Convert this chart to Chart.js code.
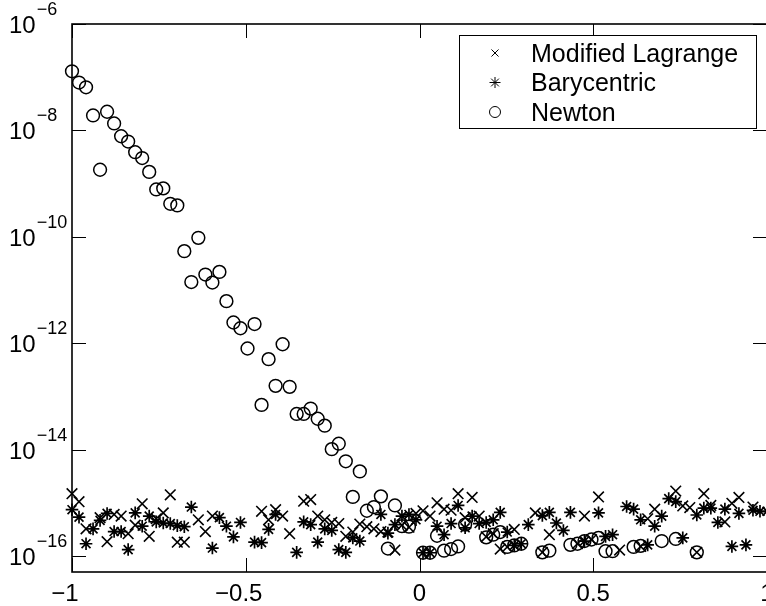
<!DOCTYPE html>
<html>
<head>
<meta charset="utf-8">
<title>Interpolation error</title>
<script src="https://cdn.jsdelivr.net/npm/chart.js@4.4.1/dist/chart.umd.min.js"></script>
<style>
  html, body { margin: 0; padding: 0; background: #fff; overflow: hidden; }
  canvas { display: block; }
</style>
</head>
<body>
<canvas id="myChart" width="768" height="606" style="width:768px;height:606px"></canvas>
<script>
// evaluation points (100 equispaced points on [-1, 1])
const xs = [
  -1, -0.9798, -0.9596, -0.9394, -0.9192, -0.8990, -0.8788, -0.8586, -0.8384, -0.8182,
  -0.7980, -0.7778, -0.7576, -0.7374, -0.7172, -0.6970, -0.6768, -0.6566, -0.6364, -0.6162,
  -0.5960, -0.5758, -0.5556, -0.5354, -0.5152, -0.4949, -0.4747, -0.4545, -0.4343, -0.4141,
  -0.3939, -0.3737, -0.3535, -0.3333, -0.3131, -0.2929, -0.2727, -0.2525, -0.2323, -0.2121,
  -0.1919, -0.1717, -0.1515, -0.1313, -0.1111, -0.0909, -0.0707, -0.0505, -0.0303, -0.0101,
  0.0101, 0.0303, 0.0505, 0.0707, 0.0909, 0.1111, 0.1313, 0.1515, 0.1717, 0.1919,
  0.2121, 0.2323, 0.2525, 0.2727, 0.2929, 0.3131, 0.3333, 0.3535, 0.3737, 0.3939,
  0.4141, 0.4343, 0.4545, 0.4747, 0.4949, 0.5152, 0.5354, 0.5556, 0.5758, 0.5960,
  0.6162, 0.6364, 0.6566, 0.6768, 0.6970, 0.7172, 0.7374, 0.7576, 0.7778, 0.7980,
  0.8182, 0.8384, 0.8586, 0.8788, 0.8990, 0.9192, 0.9394, 0.9596, 0.9798, 1
];

// errors (null = no marker visible)
const lagrange = [
  1.48e-15, 1.05e-15, 3.24e-16, null, 5.25e-16, 1.86e-16, 6.03e-16, 5.62e-16, 2.63e-16, 3.80e-16,
  9.55e-16, 2.34e-16, 5.01e-16, 6.46e-16, 1.41e-15, 1.82e-16, 1.82e-16, null, 4.79e-16, 2.88e-16,
  5.62e-16, null, null, null, null, null, null, 6.92e-16, 4.79e-16, 7.41e-16,
  5.62e-16, 2.63e-16, null, 1.07e-15, 1.15e-15, 5.62e-16, 4.79e-16, 4.27e-16, 4.07e-16, 2.34e-16,
  2.82e-16, 3.98e-16, 3.55e-16, 3.24e-16, 2.88e-16, 2.82e-16, 1.29e-16, 3.80e-16, 3.47e-16, 6.31e-16,
  7.08e-16, 5.62e-16, 1.00e-15, 7.59e-16, 7.24e-16, 1.48e-15, 5.25e-16, 1.26e-15, 5.62e-16, 2.29e-16,
  2.63e-16, 1.35e-16, 1.48e-16, 3.16e-16, null, null, 6.46e-16, 1.17e-16, 2.51e-16, null,
  null, null, 1.70e-16, 5.62e-16, 2.04e-16, 1.29e-15, null, null, 1.29e-16, null,
  null, 1.51e-16, 5.01e-16, 7.59e-16, null, null, 1.66e-15, 8.71e-16, 8.13e-16, 1.17e-16,
  1.48e-15, 8.91e-16, null, 4.37e-16, 9.77e-16, 1.26e-15, null, 8.32e-16, null, null
];

const barycentric = [
  7.41e-16, 5.37e-16, 1.70e-16, 3.24e-16, 4.68e-16, 6.31e-16, 2.88e-16, 2.88e-16, 1.32e-16, 6.46e-16,
  3.63e-16, 5.62e-16, 4.37e-16, 4.17e-16, 4.07e-16, 3.72e-16, 3.55e-16, 8.32e-16, null, null,
  1.41e-16, 5.25e-16, 3.63e-16, 2.29e-16, 4.27e-16, null, 1.82e-16, 1.78e-16, 3.16e-16, 6.03e-16,
  null, null, 1.17e-16, 4.37e-16, 3.89e-16, 1.82e-16, 3.24e-16, 3.02e-16, 1.32e-16, 1.17e-16,
  2.19e-16, 1.91e-16, null, null, 6.03e-16, 2.69e-16, 3.89e-16, 5.62e-16, 6.03e-16, 4.79e-16,
  1.15e-16, 1.15e-16, 3.63e-16, 2.51e-16, 4.07e-16, 8.91e-16, 3.39e-16, 5.62e-16, 4.07e-16, 4.27e-16,
  4.79e-16, 6.61e-16, 2.82e-16, 1.58e-16, 1.70e-16, 3.89e-16, null, 5.75e-16, 6.61e-16, 4.17e-16,
  3.02e-16, 6.61e-16, null, 1.91e-16, null, 6.46e-16, 2.34e-16, 2.51e-16, null, 8.51e-16,
  7.59e-16, 4.79e-16, 1.62e-16, 3.63e-16, 5.62e-16, 1.20e-15, 1.05e-15, 2.19e-16, null, 5.89e-16,
  7.94e-16, 7.94e-16, 4.27e-16, 7.59e-16, 1.51e-16, 6.31e-16, 1.62e-16, 7.24e-16, 6.92e-16, 6.92e-16
];

const newton = [
  1.29e-7, 7.94e-8, 6.46e-8, 1.91e-8, 1.82e-9, 2.24e-8, 1.35e-8, 7.76e-9, 6.17e-9, 3.89e-9,
  3.02e-9, 1.66e-9, 7.76e-10, 8.13e-10, 4.17e-10, 3.89e-10, 5.37e-11, 1.41e-11, 9.55e-11, 1.95e-11,
  1.38e-11, 2.19e-11, 6.17e-12, 2.45e-12, 1.91e-12, 7.94e-13, 2.29e-12, 6.92e-14, 5.01e-13, 1.58e-13,
  9.55e-13, 1.51e-13, 4.68e-14, 4.68e-14, 5.89e-14, 3.80e-14, 2.82e-14, 1.02e-14, 1.29e-14, 6.03e-15,
  1.29e-15, 3.89e-15, 7.08e-16, 8.32e-16, 1.32e-15, 1.38e-16, 8.91e-16, 3.63e-16, 3.55e-16, null,
  1.15e-16, 1.15e-16, 2.40e-16, 1.26e-16, 1.35e-16, 1.51e-16, 3.89e-16, null, null, 2.24e-16,
  2.51e-16, 2.82e-16, 1.48e-16, 1.58e-16, 1.70e-16, null, null, 1.17e-16, 1.26e-16, null,
  null, 1.62e-16, 1.70e-16, 1.91e-16, 2.04e-16, 2.19e-16, 1.23e-16, 1.23e-16, null, null,
  1.48e-16, 1.55e-16, null, null, 1.91e-16, null, 2.09e-16, null, null, 1.17e-16,
  null, null, null, null, null, null, null, null, null, null
];

const seriesNames = ["Modified Lagrange", "Barycentric", "Newton"];
const xTicks = [-1, -0.5, 0, 0.5, 1];
const xTickLabels = ["\u22121", "\u22120.5", "0", "0.5", "1"];
const yTicks = [1e-16, 1e-14, 1e-12, 1e-10, 1e-8, 1e-6];
const yTickExp = ["\u221216", "\u221214", "\u221212", "\u221210", "\u22128", "\u22126"];

const FONT = "'Liberation Sans', Arial, Helvetica, sans-serif";

function toPoints(ys) {
  const pts = [];
  for (let i = 0; i < xs.length; i++) {
    if (ys[i] !== null) pts.push({ x: xs[i], y: ys[i] });
  }
  return pts;
}

// matlab style box, inward ticks and 10^n labels
const frame = {
  id: 'frame',
  afterDatasetsDraw(chart) {
    const ctx = chart.ctx, a = chart.chartArea;
    const sx = chart.scales.x, sy = chart.scales.y;
    ctx.save();
    ctx.strokeStyle = '#000';
    ctx.lineWidth = 1.6;
    ctx.strokeRect(a.left, a.top, a.right - a.left, a.bottom - a.top);

    ctx.lineWidth = 1;
    ctx.beginPath();
    xTicks.forEach(v => {
      const px = Math.round(sx.getPixelForValue(v)) + 0.5;
      ctx.moveTo(px, a.bottom); ctx.lineTo(px, a.bottom - 14);
      ctx.moveTo(px, a.top); ctx.lineTo(px, a.top + 14);
    });
    yTicks.forEach(v => {
      const py = Math.round(sy.getPixelForValue(v)) + 0.5;
      ctx.moveTo(a.left, py); ctx.lineTo(a.left + 14, py);
      ctx.moveTo(a.right, py); ctx.lineTo(a.right - 14, py);
    });
    ctx.stroke();

    ctx.fillStyle = '#000';
    ctx.textBaseline = 'alphabetic';
    xTicks.forEach((v, i) => {
      const px = sx.getPixelForValue(v);
      const txt = xTickLabels[i];
      const neg = txt[0] === '\u2212';
      const num = neg ? txt.slice(1) : txt;
      ctx.font = '24px ' + FONT;
      const w = ctx.measureText(num).width;
      ctx.textAlign = 'center';
      ctx.fillText(num, px, a.bottom + 29);
      if (neg) {
        ctx.textAlign = 'right';
        ctx.fillText('\u2212', px - w / 2, a.bottom + 29);
      }
    });
    yTicks.forEach((v, i) => {
      const py = sy.getPixelForValue(v);
      ctx.font = '24px ' + FONT;
      ctx.textAlign = 'left';
      ctx.fillText('10', 9, py + 9);
      const w = ctx.measureText('10').width;
      ctx.font = '18px ' + FONT;
      ctx.fillText(yTickExp[i], 9 + w + 1, py - 9);
    });
    ctx.restore();
  }
};

// boxed legend in the upper right corner
const boxLegend = {
  id: 'boxLegend',
  afterDraw(chart) {
    const ctx = chart.ctx, a = chart.chartArea;
    const bx = a.right - 308, by = a.top + 11, bw = 297, bh = 93;
    ctx.save();
    ctx.fillStyle = '#fff';
    ctx.fillRect(bx, by, bw, bh);
    ctx.strokeStyle = '#000';
    ctx.lineWidth = 1;
    ctx.strokeRect(bx + 0.5, by + 0.5, bw, bh);

    chart.data.datasets.forEach((ds, i) => {
      const cy = by + 18 + i * 29.5;
      ctx.strokeStyle = '#000';
      ctx.fillStyle = 'rgba(0,0,0,0)';
      Chart.helpers.drawPoint(ctx, {
        pointStyle: ds.pointStyle,
        radius: ds.legendRadius,
        borderWidth: 1.3,
        rotation: 0
      }, bx + 36, cy);
      ctx.fillStyle = '#000';
      ctx.font = '25px ' + FONT;
      ctx.textAlign = 'left';
      ctx.textBaseline = 'alphabetic';
      ctx.fillText(ds.label, bx + 72, cy + 8.5);
    });
    ctx.restore();
  }
};

const ctx = document.getElementById('myChart').getContext('2d');
const config = {
  type: 'scatter',
  data: {
    datasets: [
      {
        label: seriesNames[0],
        data: toPoints(lagrange),
        pointStyle: 'crossRot',
        pointRadius: 7.5,
        legendRadius: 5,
        pointBorderWidth: 1.6,
        borderColor: '#000',
        backgroundColor: 'rgba(0,0,0,0)',
        clip: false
      },
      {
        label: seriesNames[1],
        data: toPoints(barycentric),
        pointStyle: 'star',
        pointRadius: 6.3,
        legendRadius: 5.5,
        pointBorderWidth: 1.7,
        borderColor: '#000',
        backgroundColor: 'rgba(0,0,0,0)',
        clip: false
      },
      {
        label: seriesNames[2],
        data: toPoints(newton),
        pointStyle: 'circle',
        pointRadius: 6.4,
        legendRadius: 5.5,
        pointBorderWidth: 1.5,
        borderColor: '#000',
        backgroundColor: 'rgba(0,0,0,0)',
        clip: false
      }
    ]
  },
  options: {
    responsive: false,
    animation: false,
    events: [],
    layout: { autoPadding: false, padding: { top: 24, right: 1, left: 0, bottom: 0 } },
    plugins: {
      legend: { display: false },
      tooltip: { enabled: false }
    },
    scales: {
      x: {
        type: 'linear',
        min: -1,
        max: 1,
        grid: { display: false },
        border: { display: false },
        ticks: { display: false },
        afterFit: s => { s.height = 34; }
      },
      y: {
        type: 'logarithmic',
        min: 5.1e-17,
        max: 1e-6,
        grid: { display: false },
        border: { display: false },
        ticks: { display: false },
        afterFit: s => { s.width = 72; }
      }
    }
  },
  plugins: [frame, boxLegend]
};

const myChart = new Chart(ctx, config);
</script>
</body>
</html>
